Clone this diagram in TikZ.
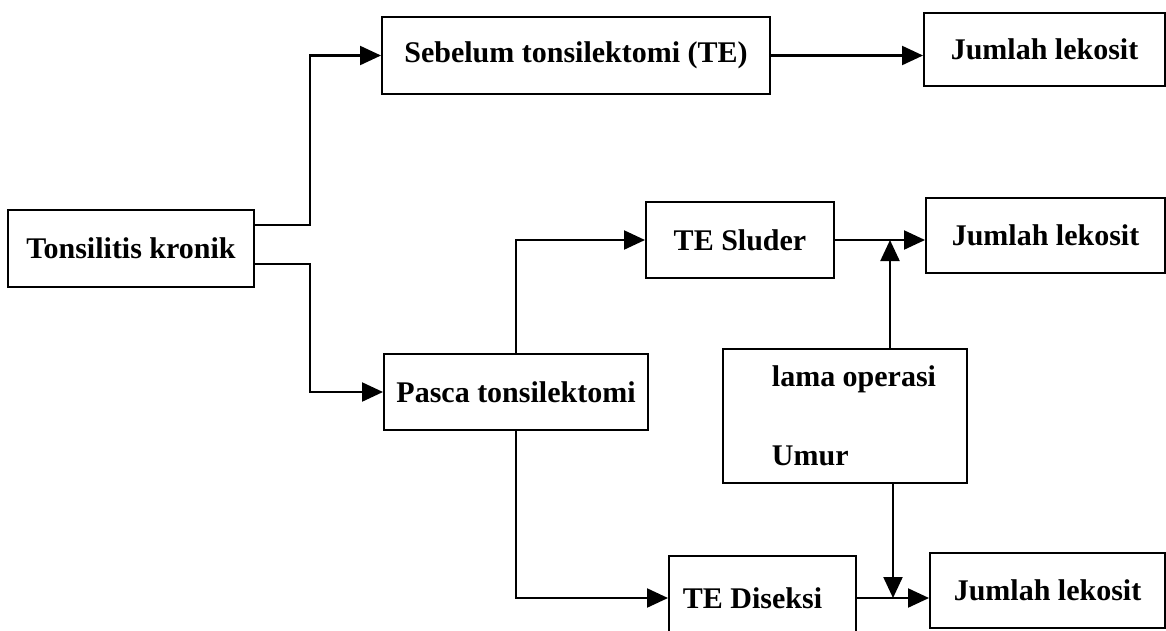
\documentclass[tikz,border=0pt]{standalone}
\usepackage{fontspec}
\setmainfont{Liberation Serif}
\usetikzlibrary{arrows.meta}
\begin{document}
\begin{tikzpicture}[x=1pt,y=-1pt,
  box/.style={draw, line width=2pt, inner sep=0pt, font=\fontsize{30}{36}\selectfont\bfseries},
  arr/.style={line width=2.2pt, -{Triangle[length=21pt,width=19pt]}}]
\useasboundingbox (0,0) rectangle (1166,630);
\clip (0,0) rectangle (1166,630);
\fill[white] (0,0) rectangle (1166,630);

% nodes
\node[box, minimum width=246pt, minimum height=77pt] (tk) at (131,248.5) {Tonsilitis kronik};
\node[box, minimum width=388pt, minimum height=77pt] (seb) at (576,55.5) {Sebelum tonsilektomi (TE)};
\node[box, minimum width=241pt, minimum height=73pt] (j1) at (1044.5,49.5) {Jumlah lekosit};
\node[box, minimum width=188pt, minimum height=76pt] (sl) at (740,240) {TE Sluder};
\node[box, minimum width=239pt, minimum height=75pt] (j2) at (1045.5,235.5) {Jumlah lekosit};
\node[box, minimum width=264pt, minimum height=76pt] (pa) at (516,392) {Pasca tonsilektomi};
\node[box, minimum width=244pt, minimum height=134pt, align=left,
      font=\fontsize{30}{79}\selectfont\bfseries] (lama) at (845,416)
      {\hspace*{18pt}lama operasi\\\hspace*{18pt}Umur};
\node[box, minimum width=187pt, minimum height=84pt] (di) at (762.5,598) {TE Diseksi\hspace*{20pt}};
\node[box, minimum width=235pt, minimum height=75pt] (j3) at (1047.5,590.5) {Jumlah lekosit};

% connectors
\draw[arr] ([yshift=23.5pt]tk.east) -- ++(55,0) |- (seb.west);
\draw[arr] ([yshift=-15.5pt]tk.east) -- ++(55,0) |- (pa.west);
\draw[arr] (seb.east) -- (seb.east -| j1.west);
\draw[arr] (pa.north) |- (sl.west);
\draw[arr] (pa.south) |- (di.west);
\draw[arr] (sl.east) -- (sl.east -| j2.west);
\draw[arr] (di.east) -- (di.east -| j3.west);
\draw[arr] ([xshift=45pt]lama.north) -- ([xshift=45pt]lama.north |- sl.east);
\draw[arr] ([xshift=48pt]lama.south) -- ([xshift=48pt]lama.south |- di.east);
\end{tikzpicture}
\end{document}
